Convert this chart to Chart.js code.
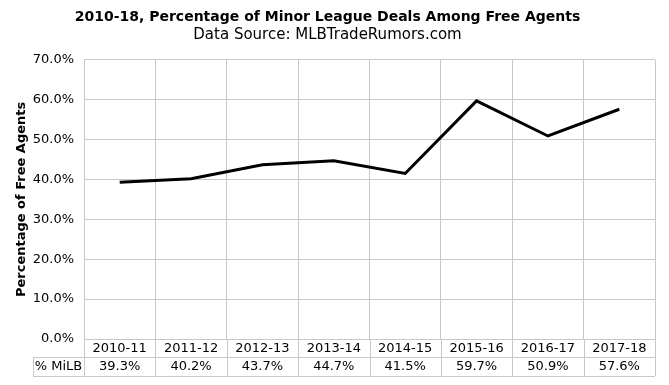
<!DOCTYPE html>
<html>
<head>
<meta charset="utf-8">
<script src="https://cdn.jsdelivr.net/npm/chart.js@4"></script>
<style>
  html, body { margin: 0; padding: 0; background: #fff; }
  #wrap { width: 669px; height: 385px; }
</style>
</head>
<body>
<div id="wrap"><canvas id="milbChart" width="669" height="385"></canvas></div>
<script>
const seasons = ['2010-11', '2011-12', '2012-13', '2013-14', '2014-15', '2015-16', '2016-17', '2017-18'];
const milbPct = [39.3, 40.2, 43.7, 44.7, 41.5, 59.7, 50.9, 57.6];
const seriesName = '% MiLB';

const FONT = "'DejaVu Sans', Verdana, sans-serif";
const GRID = '#c8c8c8';

// data table under the plot, drawn from the x scale positions
const dataTable = {
  id: 'dataTable',
  afterDraw(chart) {
    const ctx = chart.ctx;
    const x = chart.scales.x;
    const area = chart.chartArea;
    const row1 = area.bottom + 18;
    const row2 = row1 + 19;
    const leftCell = 33;
    const half = (x.getPixelForValue(1) - x.getPixelForValue(0)) / 2;

    ctx.save();
    ctx.strokeStyle = GRID;
    ctx.lineWidth = 1;
    ctx.beginPath();
    // horizontal borders
    ctx.moveTo(leftCell, row1 + 0.5); ctx.lineTo(area.right, row1 + 0.5);
    ctx.moveTo(leftCell, row2 + 0.5); ctx.lineTo(area.right, row2 + 0.5);
    ctx.moveTo(leftCell + 0.5, row1); ctx.lineTo(leftCell + 0.5, row2);
    // vertical borders
    for (let i = 0; i <= seasons.length; i++) {
      const px = Math.round(x.getPixelForValue(i) - half) + 0.5;
      ctx.moveTo(px, area.bottom); ctx.lineTo(px, row2);
    }
    ctx.stroke();

    ctx.fillStyle = '#000';
    ctx.font = '13px ' + FONT;
    ctx.textAlign = 'center';
    ctx.textBaseline = 'middle';
    seasons.forEach((s, i) => {
      const px = x.getPixelForValue(i);
      ctx.fillText(s, px, area.bottom + 9.5);
      ctx.fillText(milbPct[i].toFixed(1) + '%', px, row1 + 10);
    });
    ctx.fillText(seriesName, (leftCell + area.left) / 2, row1 + 10);
    ctx.restore();
  }
};

new Chart(document.getElementById('milbChart'), {
  type: 'line',
  data: {
    labels: seasons,
    datasets: [{
      label: seriesName,
      data: milbPct,
      borderColor: '#000',
      borderWidth: 3,
      pointRadius: 0,
      tension: 0,
      fill: false
    }]
  },
  options: {
    responsive: false,
    animation: false,
    layout: { padding: { left: 0, right: 14, top: 0, bottom: 0 } },
    plugins: {
      legend: { display: false },
      tooltip: { enabled: false },
      title: {
        display: true,
        text: '2010-18, Percentage of Minor League Deals Among Free Agents',
        color: '#000',
        font: { family: FONT, size: 14, weight: 'bold' },
        padding: { top: 9, bottom: 0 }
      },
      subtitle: {
        display: true,
        text: 'Data Source: MLBTradeRumors.com',
        color: '#000',
        font: { family: FONT, size: 15 },
        padding: { top: 0, bottom: 16 }
      }
    },
    scales: {
      x: {
        offset: true,
        grid: { offset: true, color: GRID, drawTicks: false },
        border: { color: GRID },
        ticks: { display: false },
        afterFit(scale) { scale.height = 46; }
      },
      y: {
        min: 0,
        max: 70,
        grid: { color: GRID, drawTicks: false },
        border: { color: GRID },
        ticks: {
          stepSize: 10,
          color: '#000',
          padding: 10,
          font: { family: FONT, size: 13 },
          callback: v => v.toFixed(1) + '%'
        },
        title: {
          display: true,
          text: 'Percentage of Free Agents',
          color: '#000',
          font: { family: FONT, size: 13, weight: 'bold' },
          padding: { top: 14, bottom: 0 }
        },
        afterFit(scale) { scale.width = 84; }
      }
    }
  },
  plugins: [dataTable]
});
</script>
</body>
</html>
